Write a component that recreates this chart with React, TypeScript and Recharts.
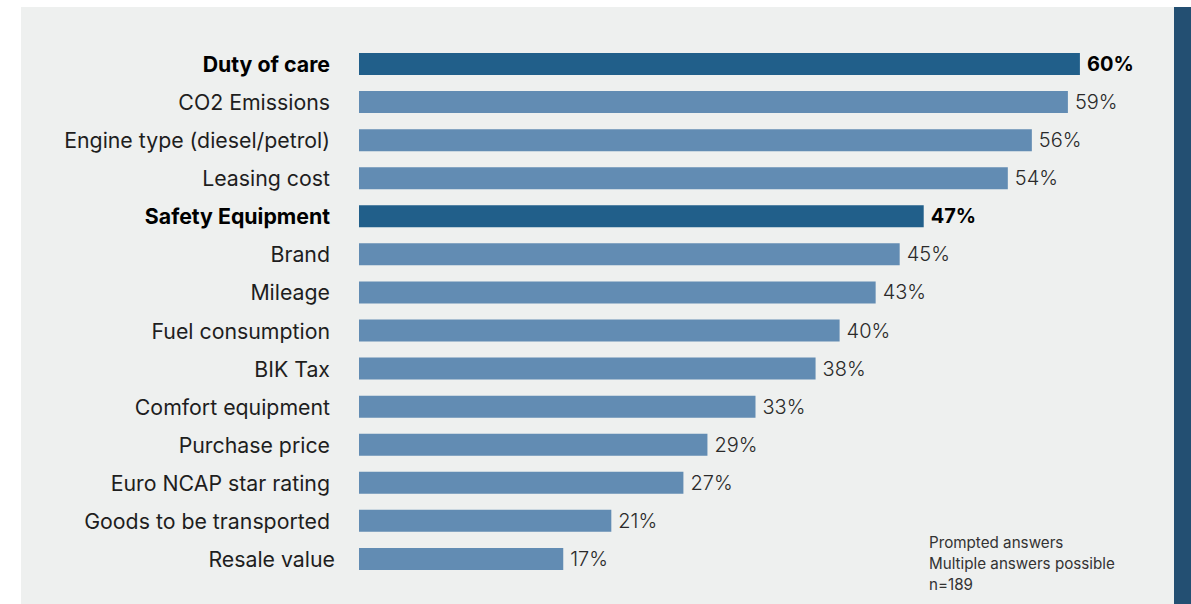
import React from 'react';
import { BarChart, Bar, XAxis, YAxis, Cell, LabelList } from 'recharts';

// Survey: criteria for company car choice (prompted, multiple answers)
const categories = [
  'Duty of care',
  'CO2 Emissions',
  'Engine type (diesel/petrol)',
  'Leasing cost',
  'Safety Equipment',
  'Brand',
  'Mileage',
  'Fuel consumption',
  'BIK Tax',
  'Comfort equipment',
  'Purchase price',
  'Euro NCAP star rating',
  'Goods to be transported',
  'Resale value',
];
const shares = [60, 59, 56, 54, 47, 45, 43, 40, 38, 33, 29, 27, 21, 17];
const highlighted = ['Duty of care', 'Safety Equipment'];
const noteLines = ['Prompted answers', 'Multiple answers possible', 'n=189'];

const DARK = '#215f8a';
const LIGHT = '#628cb3';
const FONT = 'Inter, "Noto Sans", sans-serif';

const data = categories.map((name, i) => ({
  name,
  value: shares[i],
  hi: highlighted.includes(name),
}));

function CategoryTick(props: any) {
  const { x, y, payload } = props;
  const bold = highlighted.includes(payload.value);
  // last row sits a few px further right in the original
  const shift = payload.value === 'Resale value' ? 5 : 0;
  return (
    <text
      x={x + shift}
      y={y}
      dy={8}
      textAnchor="end"
      fontFamily={FONT}
      fontSize={21.3}
      fontWeight={bold ? 700 : 400}
      fill={bold ? '#000' : '#1e1e1e'}
    >
      {payload.value}
    </text>
  );
}

function ValueLabel(props: any) {
  const { x, y, width, height, value, index } = props;
  const bold = data[index]?.hi;
  return (
    <text
      x={x + width + 7}
      y={y + height / 2}
      dy={7}
      fontFamily={FONT}
      fontSize={20}
      fontWeight={bold ? 700 : 300}
      fill={bold ? '#000' : '#2a2a2a'}
    >
      {value}%
    </text>
  );
}

export default function App() {
  return (
    <div style={{ position: 'relative', width: 1191, height: 604, background: '#fff', overflow: 'hidden' }}>
      <style>{'body{margin:0}'}</style>
      <div style={{ position: 'absolute', left: 21, top: 7, width: 1153, height: 597, background: '#eef0ef' }} />
      <div style={{ position: 'absolute', left: 1174, top: 7, width: 17, height: 597, background: '#234f72' }} />
      <div style={{ position: 'absolute', left: 0, top: 0 }}>
        <BarChart
          width={1191}
          height={604}
          data={data}
          layout="vertical"
          margin={{ top: 45, right: 39, bottom: 26, left: 20 }}
        >
          <XAxis type="number" domain={[0, 66]} hide />
          <YAxis
            type="category"
            dataKey="name"
            width={339}
            axisLine={false}
            tickLine={false}
            tickSize={6}
            tickMargin={23}
            interval={0}
            tick={<CategoryTick />}
          />
          <Bar dataKey="value" barSize={22} isAnimationActive={false}>
            {data.map((d) => (
              <Cell key={d.name} fill={d.hi ? DARK : LIGHT} />
            ))}
            <LabelList dataKey="value" content={<ValueLabel />} />
          </Bar>
        </BarChart>
      </div>
      <div
        style={{
          position: 'absolute',
          left: 929,
          top: 532,
          fontFamily: FONT,
          fontSize: 15.2,
          lineHeight: '21px',
          color: '#333',
        }}
      >
        {noteLines.map((l) => (
          <div key={l}>{l}</div>
        ))}
      </div>
    </div>
  );
}
